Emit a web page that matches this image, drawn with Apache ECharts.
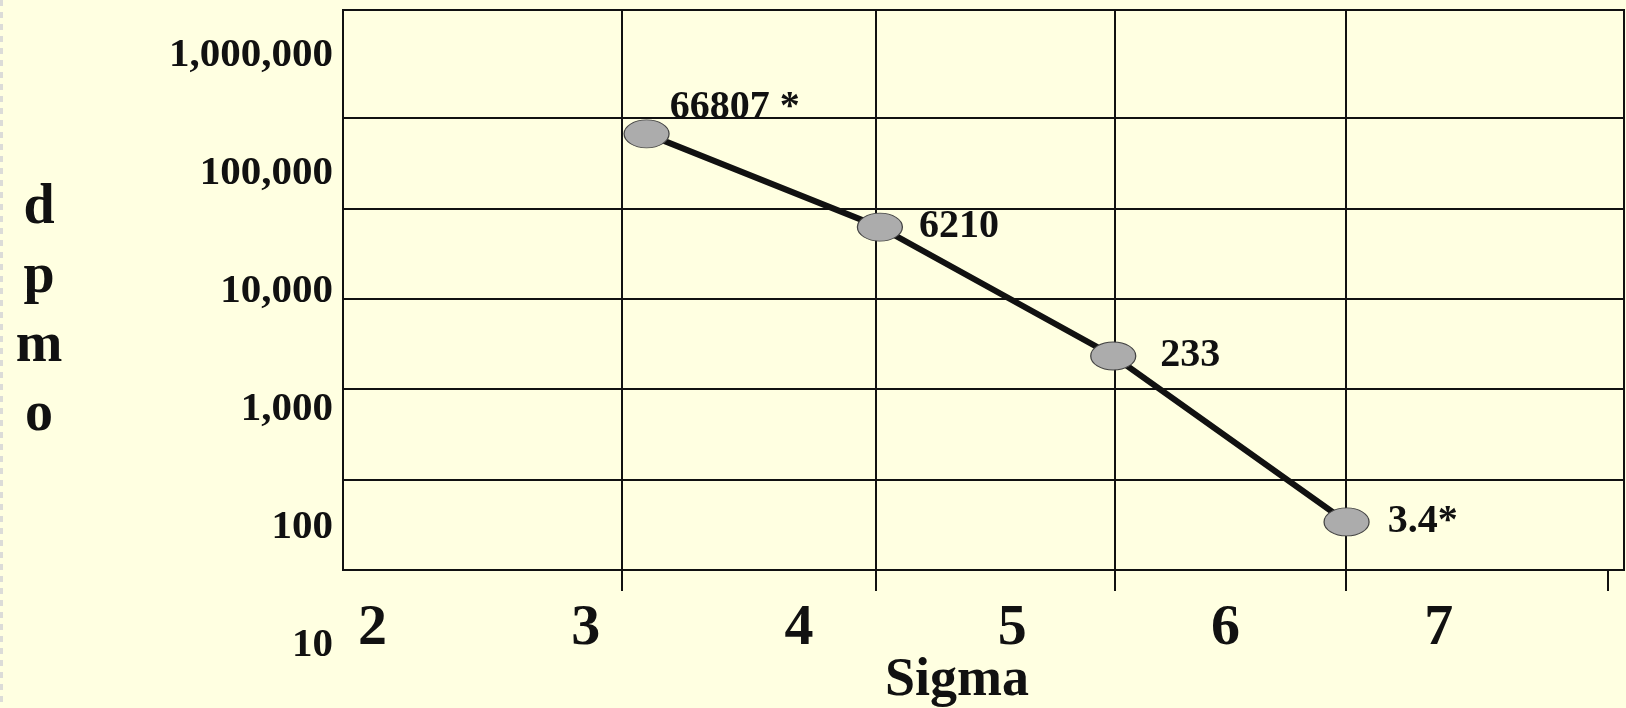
<!DOCTYPE html>
<html>
<head>
<meta charset="utf-8">
<style>
  html, body { margin: 0; padding: 0; background: #ffffe1; }
  #chart { width: 1626px; height: 708px; }
</style>
<script src="https://cdn.jsdelivr.net/npm/echarts@6/dist/echarts.min.js"></script>
</head>
<body>
<div id="chart"></div>
<script>
// sigma level vs defects per million opportunities
const sigmaLevels = [3, 4, 5, 6];
const dpmoValues = [66807, 6210, 233, 3.4];
const pointLabels = ['66807 *', '6210', '233', '3.4*'];

// tick labels
const sigmaTicks = [2, 3, 4, 5, 6, 7];
const dpmoTicks = [10, 100, 1000, 10000, 100000, 1000000];
// the slide's vertical grid lines, on the plotted sigma scale
const gridSigma = [2.895, 3.983, 5.007, 5.997, 7.119];

// label placement per point
const labelTweaks = [
  { distance: 0, offset: [0, -26] },
  { distance: 16 },
  { distance: 24 },
  { distance: 18 }
];

const serif = "'Liberation Serif', 'Times New Roman', serif";
const ink = '#111';
const none = 'rgba(0,0,0,0)';

let chart = echarts.init(document.getElementById('chart'), null, { renderer: 'canvas' });

chart.setOption({
  animation: false,
  backgroundColor: '#ffffe1',
  grid: [
    // plot frame
    { left: 343, right: 2, top: 10, bottom: 138, show: true, backgroundColor: '#ffffe1', borderColor: ink, borderWidth: 2 },
    // the tick labels of the y axis are spread wider than the grid lines
    { left: 343, right: 2, top: 55, bottom: 63, show: false }
  ],
  xAxis: [
    {
      gridIndex: 0,
      type: 'value',
      min: 1.699,
      max: 7.189,
      axisLine: { show: true, lineStyle: { color: ink, width: 2 } },
      axisTick: { show: true, customValues: gridSigma, length: 21, lineStyle: { color: ink, width: 2 } },
      axisLabel: { show: false },
      splitLine: { show: true, lineStyle: { color: [ink, ink, ink, ink, none], width: 2 } }
    },
    {
      gridIndex: 0,
      type: 'value',
      position: 'bottom',
      min: 1.862,
      max: 7.869,
      axisLine: { show: false },
      axisTick: { show: false },
      splitLine: { show: false },
      axisLabel: {
        customValues: sigmaTicks,
        margin: 30,
        fontSize: 58,
        fontWeight: 'bold',
        fontFamily: serif,
        color: ink
      }
    },
    { gridIndex: 1, type: 'value', show: false, min: 0, max: 1 }
  ],
  yAxis: [
    {
      gridIndex: 0,
      type: 'log',
      logBase: 10,
      min: 1,
      max: 1566000,
      splitNumber: 6,
      axisLine: { show: true, lineStyle: { color: ink, width: 2 } },
      axisTick: { show: false },
      axisLabel: { show: false },
      splitLine: { show: true, lineStyle: { color: [ink, ink, ink, ink, ink, ink, none, ink], width: 2 } }
    },
    {
      gridIndex: 1,
      type: 'log',
      logBase: 10,
      min: dpmoTicks[0],
      max: dpmoTicks[dpmoTicks.length - 1],
      axisLine: { show: false },
      axisTick: { show: false },
      splitLine: { show: false },
      axisLabel: {
        margin: 10,
        fontSize: 41,
        fontWeight: 'bold',
        fontFamily: serif,
        color: ink,
        formatter: v => Number(v).toLocaleString('en-US')
      }
    }
  ],
  graphic: [
    {
      // faint dashed slide edge
      type: 'line',
      shape: { x1: 1.5, y1: 0, x2: 1.5, y2: 708 },
      style: { stroke: '#dcdcd8', lineWidth: 3, lineDash: [6, 6] }
    },
    {
      type: 'text',
      x: 39,
      y: 174,
      style: {
        text: 'd\np\nm\no',
        fill: ink,
        fontSize: 56,
        fontWeight: 'bold',
        fontFamily: serif,
        lineHeight: 69,
        align: 'center',
        textAlign: 'center',
        verticalAlign: 'top',
        textVerticalAlign: 'top'
      }
    },
    {
      type: 'text',
      x: 957,
      y: 654,
      style: {
        text: 'Sigma',
        fill: ink,
        fontSize: 54,
        fontWeight: 'bold',
        fontFamily: serif,
        align: 'center',
        textAlign: 'center',
        verticalAlign: 'top',
        textVerticalAlign: 'top'
      }
    }
  ],
  series: [
    {
      type: 'line',
      xAxisIndex: 0,
      yAxisIndex: 0,
      data: sigmaLevels.map((s, i) => ({ value: [s, dpmoValues[i]], label: labelTweaks[i] })),
      symbol: 'circle',
      symbolSize: [45, 28],
      lineStyle: { color: ink, width: 6 },
      itemStyle: { color: '#acacac', borderColor: '#444', borderWidth: 1 },
      label: {
        show: true,
        position: 'right',
        fontSize: 40,
        fontWeight: 'bold',
        fontFamily: serif,
        color: ink,
        formatter: p => pointLabels[p.dataIndex]
      }
    }
  ]
});
</script>
</body>
</html>
